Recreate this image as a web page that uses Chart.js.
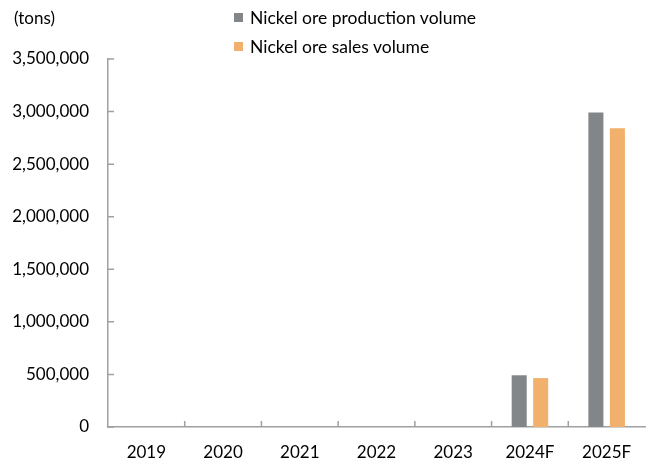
<!DOCTYPE html>
<html>
<head>
<meta charset="utf-8">
<script src="https://cdn.jsdelivr.net/npm/chart.js@4.4.1/dist/chart.umd.min.js"></script>
<style>
  body { margin: 0; background: #fff; }
  #wrap { position: relative; width: 648px; height: 464px; font-family: Lato, "Open Sans", sans-serif; }
  #unit { position: absolute; left: 14px; top: 7px; font-size: 17px; color: #000; }
  #legend { position: absolute; left: 234px; top: 7px; font-size: 17.5px; color: #000; }
  .item { display: flex; align-items: center; height: 21px; margin-bottom: 8px; }
  .box { width: 9px; height: 9px; margin-right: 7px; }
</style>
</head>
<body>
<div id="wrap">
  <canvas id="myChart" width="648" height="464"></canvas>
  <div id="unit">(tons)</div>
  <div id="legend"></div>
</div>
<script>
const years = ["2019", "2020", "2021", "2022", "2023", "2024F", "2025F"]
const productionVolume = [null, null, null, null, null, 492000, 2990000]
const salesVolume = [null, null, null, null, null, 465000, 2842000]
const seriesNames = ["Nickel ore production volume", "Nickel ore sales volume"]
const seriesColors = ["#838688", "#F1B06B"]

const legendBox = document.getElementById("legend")
for (let i = 0; i < seriesNames.length; i++) {
  let item = document.createElement("div")
  item.className = "item"
  let box = document.createElement("span")
  box.className = "box"
  box.style.background = seriesColors[i]
  let label = document.createElement("span")
  label.textContent = seriesNames[i]
  item.appendChild(box)
  item.appendChild(label)
  legendBox.appendChild(item)
}

// small tick marks pointing into the plot, like the original
const innerTicks = {
  id: "innerTicks",
  afterDraw(chart) {
    const ctx = chart.ctx
    const x = chart.scales.x
    const y = chart.scales.y
    ctx.save()
    ctx.strokeStyle = "#a0a0a0"
    ctx.lineWidth = 1.5
    ctx.beginPath()
    y.ticks.forEach((t) => {
      const py = y.getPixelForValue(t.value)
      ctx.moveTo(x.left, py)
      ctx.lineTo(x.left + 6, py)
    })
    for (let i = 1; i < years.length; i++) {
      const px = (x.getPixelForValue(i - 1) + x.getPixelForValue(i)) / 2
      ctx.moveTo(px, y.bottom)
      ctx.lineTo(px, y.bottom - 6)
    }
    ctx.stroke()
    ctx.restore()
  }
}

new Chart(document.getElementById("myChart"), {
  type: "bar",
  data: {
    labels: years,
    datasets: [
      { label: seriesNames[0], data: productionVolume, backgroundColor: seriesColors[0] },
      { label: seriesNames[1], data: salesVolume, backgroundColor: seriesColors[1] },
    ],
  },
  options: {
    responsive: false,
    animation: false,
    layout: { padding: { top: 59, right: 3, left: 0, bottom: 0 } },
    datasets: { bar: { categoryPercentage: 0.56, barPercentage: 0.7 } },
    plugins: { legend: { display: false }, tooltip: { enabled: false } },
    scales: {
      x: {
        grid: { display: false, drawTicks: false },
        border: { display: true, color: "#a0a0a0", width: 1.5 },
        ticks: { color: "#000", padding: 15, font: { family: "Lato", size: 17 } },
        afterFit(scale) { scale.height = 37 },
      },
      y: {
        min: 0,
        max: 3500000,
        grid: { display: false, drawTicks: false },
        border: { display: true, color: "#a0a0a0", width: 1.5 },
        ticks: {
          stepSize: 500000,
          color: "#000",
          padding: 19,
          font: { family: "Lato", size: 17 },
          callback: (v) => v.toLocaleString("en-US"),
        },
        afterFit(scale) { scale.width = 108 },
      },
    },
  },
  plugins: [innerTicks],
})
</script>
</body>
</html>
